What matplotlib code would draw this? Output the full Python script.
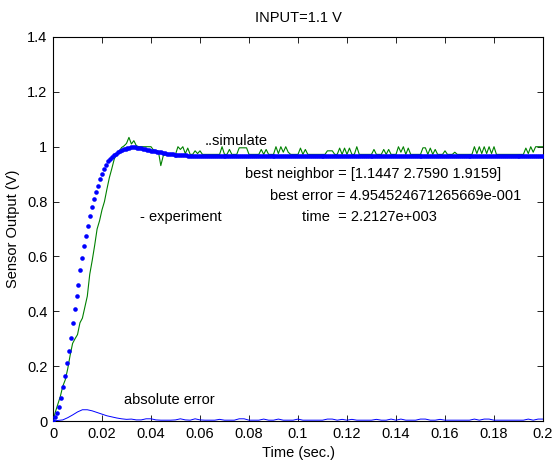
import numpy as np
import matplotlib
matplotlib.use("Agg")
import matplotlib.pyplot as plt

plt.rcParams["font.family"] = ["Liberation Sans", "DejaVu Sans"]

# simulated response (blue dots), one value every 0.8 ms
SIM_T = np.linspace(0, 0.2, 251)
SIM_V = [
    0.000, 0.013, 0.030, 0.052, 0.085, 0.124, 0.165, 0.210, 0.256, 0.304,
    0.357, 0.407, 0.456, 0.497, 0.552, 0.593, 0.637, 0.673, 0.712, 0.748,
    0.782, 0.810, 0.834, 0.858, 0.883, 0.901, 0.919, 0.935, 0.947, 0.955,
    0.962, 0.968, 0.974, 0.979, 0.983, 0.987, 0.990, 0.993, 0.995, 0.997,
    0.998, 0.998, 0.998, 0.997, 0.996, 0.995, 0.993, 0.991, 0.989, 0.987,
    0.986, 0.984, 0.983, 0.981, 0.980, 0.979, 0.977, 0.976, 0.975, 0.974,
    0.973, 0.972, 0.971, 0.970, 0.970, 0.969, 0.969, 0.968, 0.968, 0.967,
    0.967, 0.966, 0.966, 0.966, 0.966, 0.966, 0.966, 0.966, 0.966, 0.966,
    0.966, 0.966, 0.966, 0.966, 0.966, 0.966, 0.966, 0.966, 0.966, 0.966,
    0.966, 0.966, 0.966, 0.966, 0.966, 0.966, 0.966, 0.966, 0.966, 0.966,
    0.966, 0.966, 0.966, 0.966, 0.966, 0.966, 0.966, 0.966, 0.966, 0.966,
    0.966, 0.966, 0.966, 0.966, 0.966, 0.966, 0.966, 0.966, 0.966, 0.966,
    0.966, 0.966, 0.966, 0.966, 0.966, 0.966, 0.966, 0.966, 0.966, 0.966,
    0.966, 0.966, 0.966, 0.966, 0.966, 0.966, 0.966, 0.966, 0.966, 0.966,
    0.966, 0.966, 0.966, 0.966, 0.966, 0.966, 0.966, 0.966, 0.966, 0.966,
    0.966, 0.966, 0.966, 0.966, 0.966, 0.966, 0.966, 0.966, 0.966, 0.966,
    0.966, 0.966, 0.966, 0.966, 0.966, 0.966, 0.966, 0.966, 0.966, 0.966,
    0.966, 0.966, 0.966, 0.966, 0.966, 0.966, 0.966, 0.966, 0.966, 0.966,
    0.966, 0.966, 0.966, 0.966, 0.966, 0.966, 0.966, 0.966, 0.966, 0.966,
    0.966, 0.966, 0.966, 0.966, 0.966, 0.966, 0.966, 0.966, 0.966, 0.966,
    0.966, 0.966, 0.966, 0.966, 0.966, 0.966, 0.966, 0.966, 0.966, 0.966,
    0.966, 0.966, 0.966, 0.966, 0.966, 0.966, 0.966, 0.966, 0.966, 0.966,
    0.966, 0.966, 0.966, 0.966, 0.966, 0.966, 0.966, 0.966, 0.966, 0.966,
    0.966, 0.966, 0.966, 0.966, 0.966, 0.966, 0.966, 0.966, 0.966, 0.966,
    0.966, 0.966, 0.966, 0.966, 0.966, 0.966, 0.966, 0.966, 0.966, 0.966,
    0.966,
]

# measured response (green line), one value every 1 ms
EXP_T = np.linspace(0, 0.2, 201)
EXP_V = [
    0.000, 0.034, 0.062, 0.090, 0.127, 0.150, 0.190, 0.240, 0.283, 0.300,
    0.315, 0.358, 0.375, 0.415, 0.455, 0.535, 0.585, 0.640, 0.700, 0.730,
    0.770, 0.800, 0.845, 0.887, 0.920, 0.955, 0.973, 0.983, 0.997, 1.003,
    1.012, 1.034, 1.010, 1.022, 1.004, 1.000, 1.000, 1.000, 1.000, 1.000,
    1.000, 0.988, 0.986, 0.984, 0.931, 0.967, 0.972, 0.972, 0.972, 0.972,
    0.972, 1.000, 0.990, 1.000, 0.975, 0.995, 0.972, 0.972, 0.985, 0.975,
    0.985, 0.972, 0.972, 0.972, 0.972, 0.972, 0.972, 0.972, 0.972, 1.000,
    0.972, 0.972, 0.990, 0.972, 0.972, 0.972, 0.996, 0.996, 0.996, 0.996,
    0.972, 0.972, 0.972, 0.972, 0.972, 0.990, 0.972, 0.990, 0.972, 0.972,
    0.972, 1.000, 0.975, 1.000, 0.980, 1.000, 0.980, 0.972, 0.972, 0.972,
    0.972, 0.995, 0.972, 0.990, 0.972, 0.972, 0.972, 0.972, 0.972, 0.972,
    0.972, 0.972, 0.985, 0.985, 0.985, 0.972, 0.972, 0.995, 0.972, 0.995,
    0.972, 0.995, 0.972, 0.972, 1.000, 0.972, 0.972, 0.972, 0.972, 0.972,
    0.972, 0.990, 0.972, 0.972, 0.972, 0.990, 0.972, 0.990, 0.972, 0.972,
    0.972, 1.000, 0.980, 1.000, 0.972, 0.995, 0.972, 0.972, 0.972, 0.972,
    0.972, 0.996, 0.996, 0.972, 0.995, 0.972, 0.990, 0.972, 0.972, 0.972,
    0.985, 0.972, 0.972, 0.972, 0.980, 0.972, 0.972, 0.972, 0.972, 0.972,
    0.972, 0.972, 1.000, 0.975, 1.000, 0.975, 1.000, 0.975, 1.000, 0.975,
    1.000, 0.972, 0.972, 0.972, 0.972, 0.972, 0.972, 0.972, 0.972, 0.972,
    0.972, 0.972, 0.972, 0.995, 0.975, 1.000, 0.980, 1.000, 1.000, 1.000,
    1.000,
]

# absolute error (thin blue line), one value every 2 ms
ERR_T = np.linspace(0, 0.2, 101)
ERR_V = [
    0.000, 0.002, 0.004, 0.012, 0.022, 0.033, 0.041, 0.041, 0.037, 0.031,
    0.025, 0.019, 0.015, 0.011, 0.008, 0.006, 0.007, 0.004, 0.004, 0.008,
    0.008, 0.004, 0.003, 0.003, 0.003, 0.004, 0.008, 0.004, 0.003, 0.008,
    0.004, 0.003, 0.003, 0.003, 0.006, 0.003, 0.003, 0.003, 0.008, 0.008,
    0.003, 0.003, 0.003, 0.007, 0.003, 0.003, 0.007, 0.003, 0.003, 0.003,
    0.007, 0.003, 0.003, 0.003, 0.003, 0.003, 0.007, 0.007, 0.003, 0.006,
    0.003, 0.006, 0.003, 0.003, 0.003, 0.003, 0.006, 0.003, 0.003, 0.007,
    0.003, 0.007, 0.003, 0.003, 0.003, 0.007, 0.007, 0.003, 0.003, 0.006,
    0.003, 0.003, 0.003, 0.003, 0.003, 0.003, 0.007, 0.003, 0.007, 0.007,
    0.003, 0.003, 0.003, 0.003, 0.003, 0.003, 0.003, 0.007, 0.003, 0.007,
    0.007,
]

X_TICKS = [0, 0.02, 0.04, 0.06, 0.08, 0.1, 0.12, 0.14, 0.16, 0.18, 0.2]
X_LABELS = ["0", "0.02", "0.04", "0.06", "0.08", "0.1", "0.12", "0.14", "0.16", "0.18", "0.2"]
Y_TICKS = [0, 0.2, 0.4, 0.6, 0.8, 1.0, 1.2, 1.4]
Y_LABELS = ["0", "0.2", "0.4", "0.6", "0.8", "1", "1.2", "1.4"]

FS = 10.5

fig = plt.figure(figsize=(5.53, 4.61), dpi=100)
ax = fig.add_axes([53 / 553, 1 - 421 / 461, 490 / 553, 384 / 461])

ax.plot(EXP_T, EXP_V, color="#008000", linewidth=0.8, zorder=2)
ax.plot(SIM_T, SIM_V, linestyle="none", marker="o", markersize=3.3,
        markerfacecolor="#0000ff", markeredgecolor="none", zorder=3)
ax.plot(ERR_T, ERR_V, color="#0000ff", linewidth=0.7, zorder=4)

ax.text(0.062, 1.02, "..simulate", fontsize=FS, va="center")
ax.text(0.0355, 0.745, "- experiment", fontsize=FS, va="center")
ax.text(0.0784, 0.90, "best neighbor = [1.1447 2.7590 1.9159]", fontsize=FS, va="center")
ax.text(0.0886, 0.82, "best error = 4.954524671265669e-001", fontsize=FS, va="center")
ax.text(0.1016, 0.745, "time  = 2.2127e+003", fontsize=FS, va="center")
ax.text(0.029, 0.076, "absolute error", fontsize=FS, va="center")

ax.set_xlim(0, 0.2)
ax.set_ylim(0, 1.4)
ax.set_xticks(X_TICKS)
ax.set_xticklabels(X_LABELS)
ax.set_yticks(Y_TICKS)
ax.set_yticklabels(Y_LABELS)
ax.tick_params(direction="in", top=True, right=True, length=4, width=0.6,
               labelsize=FS, pad=4)
for sp in ax.spines.values():
    sp.set_linewidth(0.8)

ax.set_title("INPUT=1.1 V", fontsize=FS, pad=11)
ax.set_xlabel("Time (sec.)", fontsize=FS, labelpad=4)
ax.set_ylabel("Sensor Output (V)", fontsize=FS, labelpad=5)

fig.savefig("out.png", dpi=100)
